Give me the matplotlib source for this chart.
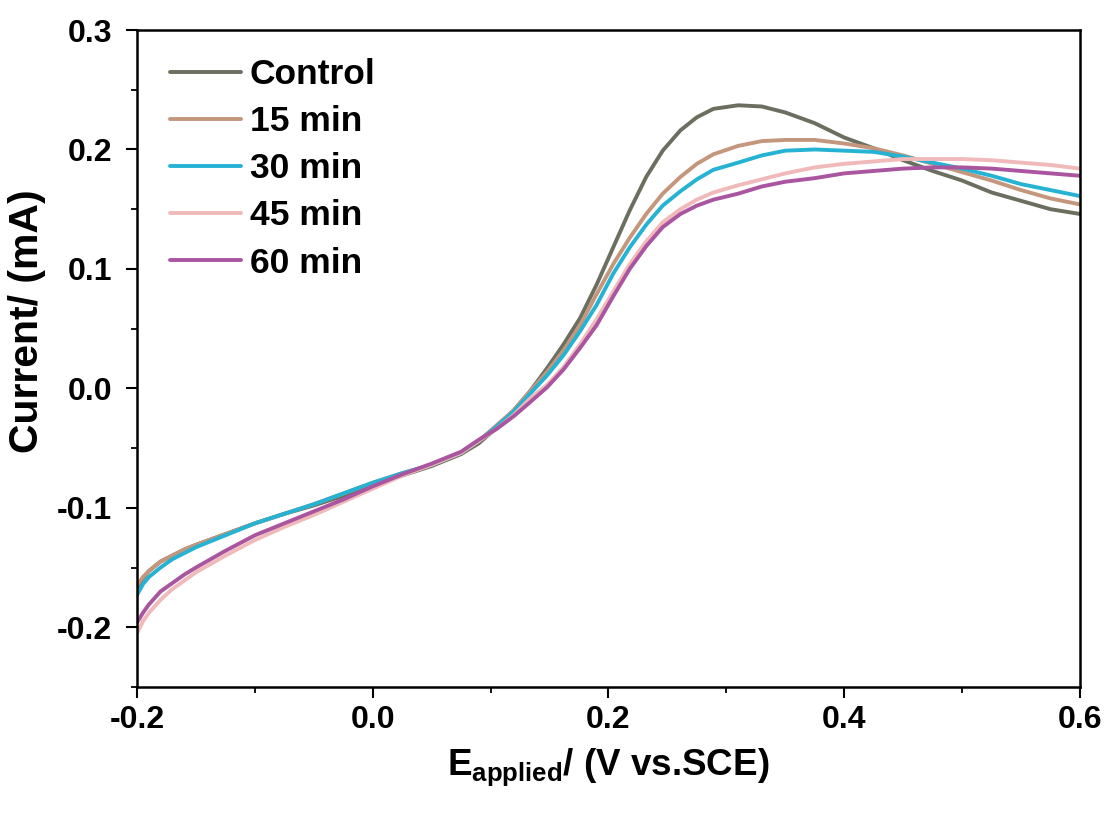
import matplotlib
import numpy as np

matplotlib.use("Agg")
import matplotlib.pyplot as plt  # noqa: E402
from matplotlib.ticker import FormatStrFormatter, MultipleLocator  # noqa: E402

plt.rcParams["font.family"] = ["Liberation Sans", "DejaVu Sans"]
plt.rcParams["font.weight"] = "bold"
plt.rcParams["mathtext.fontset"] = "custom"
plt.rcParams["mathtext.rm"] = "Liberation Sans:bold"
plt.rcParams["mathtext.bf"] = "Liberation Sans:bold"

# potential (V vs SCE)
E = [-0.2, -0.195, -0.19, -0.18, -0.17, -0.16, -0.15, -0.125, -0.1, -0.075,
     -0.05, -0.025, 0.0, 0.025, 0.05, 0.075, 0.09, 0.105, 0.12, 0.133,
     0.148, 0.162, 0.176, 0.19, 0.204, 0.218, 0.232, 0.246, 0.261, 0.275,
     0.289, 0.31, 0.33, 0.35, 0.375, 0.4, 0.425, 0.45, 0.475, 0.5, 0.525,
     0.55, 0.575, 0.6]

# current (mA)
control = [-0.167, -0.159, -0.153, -0.145, -0.140, -0.135, -0.131, -0.122,
           -0.113, -0.105, -0.098, -0.090, -0.081, -0.073, -0.065, -0.055,
           -0.046, -0.033, -0.018, -0.003, 0.017, 0.037, 0.059, 0.087, 0.118,
           0.149, 0.177, 0.199, 0.216, 0.227, 0.234, 0.237, 0.236, 0.231,
           0.222, 0.210, 0.201, 0.191, 0.182, 0.174, 0.164, 0.157, 0.150,
           0.146]
min15 = [-0.165, -0.158, -0.153, -0.145, -0.140, -0.135, -0.131, -0.122,
         -0.113, -0.105, -0.097, -0.088, -0.079, -0.071, -0.064, -0.054,
         -0.044, -0.031, -0.018, -0.003, 0.014, 0.032, 0.053, 0.079, 0.104,
         0.126, 0.146, 0.163, 0.177, 0.188, 0.196, 0.203, 0.207, 0.208,
         0.208, 0.205, 0.201, 0.195, 0.188, 0.181, 0.174, 0.166, 0.159,
         0.154]
min30 = [-0.173, -0.164, -0.158, -0.150, -0.143, -0.138, -0.133, -0.123,
         -0.113, -0.105, -0.097, -0.088, -0.079, -0.071, -0.064, -0.054,
         -0.044, -0.032, -0.019, -0.005, 0.011, 0.028, 0.048, 0.070, 0.096,
         0.118, 0.137, 0.153, 0.165, 0.175, 0.183, 0.189, 0.195, 0.199,
         0.200, 0.199, 0.198, 0.194, 0.189, 0.184, 0.178, 0.171, 0.166,
         0.161]
min45 = [-0.205, -0.195, -0.188, -0.177, -0.168, -0.161, -0.154, -0.140,
         -0.127, -0.116, -0.106, -0.095, -0.084, -0.073, -0.064, -0.054,
         -0.044, -0.034, -0.022, -0.009, 0.003, 0.018, 0.037, 0.058, 0.081,
         0.104, 0.123, 0.139, 0.150, 0.158, 0.164, 0.170, 0.175, 0.180,
         0.185, 0.188, 0.190, 0.192, 0.192, 0.192, 0.191, 0.189, 0.187,
         0.184]
min60 = [-0.196, -0.188, -0.181, -0.170, -0.163, -0.156, -0.150, -0.136,
         -0.123, -0.113, -0.103, -0.093, -0.082, -0.072, -0.063, -0.053,
         -0.043, -0.034, -0.023, -0.012, 0.001, 0.016, 0.034, 0.053, 0.077,
         0.100, 0.119, 0.135, 0.146, 0.153, 0.158, 0.163, 0.169, 0.173,
         0.176, 0.180, 0.182, 0.184, 0.185, 0.185, 0.184, 0.182, 0.180,
         0.178]

labels = ["Control", "15 min", "30 min", "45 min", "60 min"]
colors = ["#6b6f5f", "#c4967c", "#26b2d3", "#f0baba", "#a9559f"]
series = [control, min15, min30, min45, min60]

fig = plt.figure(figsize=(11.12, 8.16), dpi=100)
ax = fig.add_axes([0.1232, 0.1581, 0.848, 0.8051])

for y, c, lab in zip(series, colors, labels):
    ax.plot(E, y, color=c, lw=2.8, label=lab, solid_joinstyle="round",
            solid_capstyle="round")

ax.set_xlim(-0.2, 0.6)
ax.set_ylim(-0.25, 0.3)
ax.xaxis.set_major_locator(MultipleLocator(0.2))
ax.xaxis.set_minor_locator(MultipleLocator(0.1))
ax.yaxis.set_major_locator(MultipleLocator(0.1))
ax.yaxis.set_minor_locator(MultipleLocator(0.05))
ax.xaxis.set_major_formatter(FormatStrFormatter("%.1f"))
ax.yaxis.set_major_formatter(FormatStrFormatter("%.1f"))
ax.tick_params(which="major", direction="out", length=8, width=1.5,
               labelsize=23, pad=10, top=False, right=False)
ax.tick_params(which="minor", direction="out", length=4.5, width=1.3,
               top=False, right=False)
ax.tick_params(axis="x", which="major", pad=5)
for s in ax.spines.values():
    s.set_linewidth(1.8)

ax.set_xlabel(r"E$_{\mathrm{applied}}$/ (V vs.SCE)", fontsize=26.5,
              fontweight="bold", labelpad=8)
ax.set_ylabel("Current/ (mA)", fontsize=29.5, fontweight="bold")
ax.yaxis.set_label_coords(-0.097, 0.557)

ax.legend(loc="upper left", frameon=False, fontsize=25.5, handlelength=2.0,
          handletextpad=0.25, labelspacing=0.4, borderaxespad=0.0,
          bbox_to_anchor=(0.02, 0.979))

fig.savefig("out.png", dpi=100)
